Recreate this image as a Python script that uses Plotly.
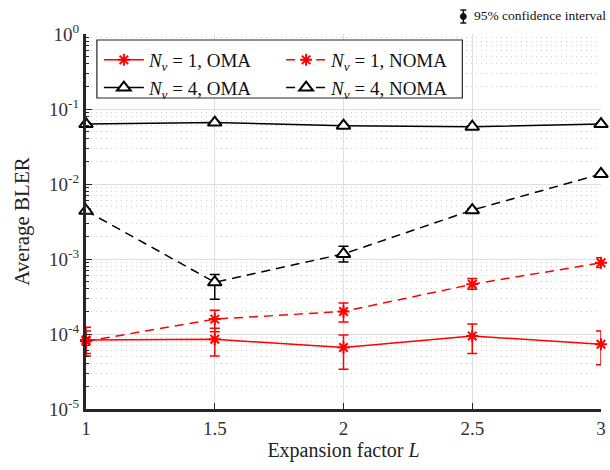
import plotly.graph_objects as go

# ---- data ----
L = [1, 1.5, 2, 2.5, 3]

n1_oma = [8.3e-5, 8.5e-5, 6.6e-5, 9.4e-5, 7.3e-5]
n1_oma_lo = [5.1e-5, 5.1e-5, 3.4e-5, 5.5e-5, 3.9e-5]
n1_oma_hi = [1.23e-4, 1.19e-4, 9.7e-5, 1.36e-4, 1.1e-4]

n1_noma = [8.0e-5, 1.58e-4, 2.0e-4, 4.6e-4, 8.9e-4]
n1_noma_lo = [5.5e-5, 1.07e-4, 1.45e-4, 3.96e-4, 7.7e-4]
n1_noma_hi = [1.1e-4, 2.08e-4, 2.6e-4, 5.5e-4, 1.04e-3]

n4_oma = [0.063, 0.066, 0.060, 0.058, 0.063]
n4_oma_lo = [0.061, 0.064, 0.058, 0.056, 0.061]
n4_oma_hi = [0.065, 0.068, 0.062, 0.060, 0.065]

n4_noma = [0.0044, 4.9e-4, 1.17e-3, 0.00448, 0.0136]
n4_noma_lo = [0.0042, 2.9e-4, 9.1e-4, 0.0043, 0.0132]
n4_noma_hi = [0.0046, 6.2e-4, 1.48e-3, 0.0047, 0.0140]

y_tickvals = [1e-5, 1e-4, 1e-3, 1e-2, 1e-1, 1]
y_ticktext = ["10<sup>-5</sup>", "10<sup>-4</sup>", "10<sup>-3</sup>",
              "10<sup>-2</sup>", "10<sup>-1</sup>", "10<sup>0</sup>"]
x_tickvals = [1, 1.5, 2, 2.5, 3]
x_ticktext = ["1", "1.5", "2", "2.5", "3"]

labels = ["<i>N<sub>v</sub></i> = 1, OMA", "<i>N<sub>v</sub></i> = 1, NOMA",
          "<i>N<sub>v</sub></i> = 4, OMA", "<i>N<sub>v</sub></i> = 4, NOMA"]

RED = "#ff0000"
BLK = "#000000"
FONT = "Liberation Serif"

def err(c, lo, hi, color):
    return dict(type="data", symmetric=False,
                array=[h - v for h, v in zip(hi, c)],
                arrayminus=[v - l for v, l in zip(c, lo)],
                color=color, thickness=1.5, width=5)

fig = go.Figure()

series = [
    (n1_oma, n1_oma_lo, n1_oma_hi, RED, "solid", "asterisk-open", labels[0], "legend"),
    (n4_oma, n4_oma_lo, n4_oma_hi, BLK, "solid", "triangle-up", labels[2], "legend"),
    (n1_noma, n1_noma_lo, n1_noma_hi, RED, "9px,6px", "asterisk-open", labels[1], "legend2"),
    (n4_noma, n4_noma_lo, n4_noma_hi, BLK, "9px,6px", "triangle-up", labels[3], "legend2"),
]
for c, lo, hi, col, dash, sym, name, leg in series:
    if sym == "asterisk-open":
        marker = dict(symbol=sym, size=10, color=col, line=dict(color=col, width=2))
    else:
        marker = dict(symbol=sym, size=12, color="white", line=dict(color=col, width=2))
    fig.add_trace(go.Scatter(
        x=L, y=c, mode="lines+markers", name=name, legend=leg,
        line=dict(color=col, width=1.5, dash=dash),
        marker=marker, error_y=err(c, lo, hi, col), cliponaxis=False))

AX = "#262626"
fig.update_xaxes(
    range=[1, 3], tickvals=x_tickvals, ticktext=x_ticktext,
    showline=True, linewidth=3, linecolor=AX, mirror=False,
    ticks="inside", ticklen=6, tickwidth=1, tickcolor=AX,
    showgrid=True, gridcolor="#dedede", gridwidth=1, zeroline=False,
    ticklabeloverflow="allow",
    tickfont=dict(family=FONT, size=19, color="#333"),
    title=dict(text="Expansion factor <i>L</i>", font=dict(family=FONT, size=20, color="#222"), standoff=6),
)
minor_vals = [k * 10.0 ** e for e in range(-5, 0) for k in range(2, 10)]
fig.update_yaxes(
    type="log", range=[-5, 0], tickvals=y_tickvals, ticktext=y_ticktext,
    showline=True, linewidth=3, linecolor=AX, mirror=False,
    ticks="inside", ticklen=6, tickwidth=1, tickcolor=AX,
    showgrid=True, gridcolor="#dedede", gridwidth=1, zeroline=False,
    minor=dict(tickvals=minor_vals, ticks="inside", ticklen=3, tickcolor=AX,
               showgrid=True, gridcolor="#cfcfcf", griddash="1px,4px", gridwidth=1),
    tickfont=dict(family=FONT, size=19, color="#333"),
    title=dict(text="Average BLER", font=dict(family=FONT, size=21, color="#222"), standoff=14),
)

W, H = 610, 470
ml, mr, mt, mb = 86, 4, 34, 61
pw, ph = W - ml - mr, H - mt - mb

def px(x):  # window pixel -> paper x
    return (x - ml) / pw

def py(y):  # window pixel -> paper y
    return (H - mb - y) / ph

GX = 467  # glyph x (window px)
legfont = dict(family=FONT, size=19, color="#111")
fig.update_layout(
    width=W, height=H, margin=dict(l=ml, r=mr, t=mt, b=mb),
    plot_bgcolor="white", paper_bgcolor="white",
    showlegend=True,
    legend=dict(x=px(99), y=py(41), xanchor="left", yanchor="top",
                bgcolor="rgba(0,0,0,0)", font=legfont, tracegroupgap=0,
                itemwidth=40),
    legend2=dict(x=px(283), y=py(41), xanchor="left", yanchor="top",
                 bgcolor="rgba(0,0,0,0)", font=legfont, tracegroupgap=0,
                 itemwidth=40),
    shapes=[
        dict(type="rect", xref="paper", yref="paper",
             x0=px(97), x1=px(466), y0=py(98), y1=py(40),
             line=dict(color=AX, width=1.2), fillcolor="white", layer="above"),
        # confidence interval glyph
        dict(type="line", xref="paper", yref="paper", x0=px(GX), x1=px(GX),
             y0=py(23), y1=py(10), line=dict(color="#111", width=1.5)),
        dict(type="line", xref="paper", yref="paper", x0=px(GX - 3), x1=px(GX + 3),
             y0=py(10), y1=py(10), line=dict(color="#111", width=1.5)),
        dict(type="line", xref="paper", yref="paper", x0=px(GX - 3), x1=px(GX + 3),
             y0=py(23), y1=py(23), line=dict(color="#111", width=1.5)),
        dict(type="circle", xref="paper", yref="paper", x0=px(GX - 3), x1=px(GX + 3),
             y0=py(19.5), y1=py(13.5), line=dict(color="#111", width=1), fillcolor="#111"),
    ],
    annotations=[
        dict(text="95% confidence interval", xref="paper", yref="paper",
             x=px(476), y=py(16), xanchor="left", yanchor="middle", showarrow=False,
             font=dict(family=FONT, size=13.5, color="#111")),
    ],
)

fig.write_html(
    "out.html",
    config={"displayModeBar": False},
    post_script="document.body.style.margin='0';document.body.style.overflow='hidden';",
)
